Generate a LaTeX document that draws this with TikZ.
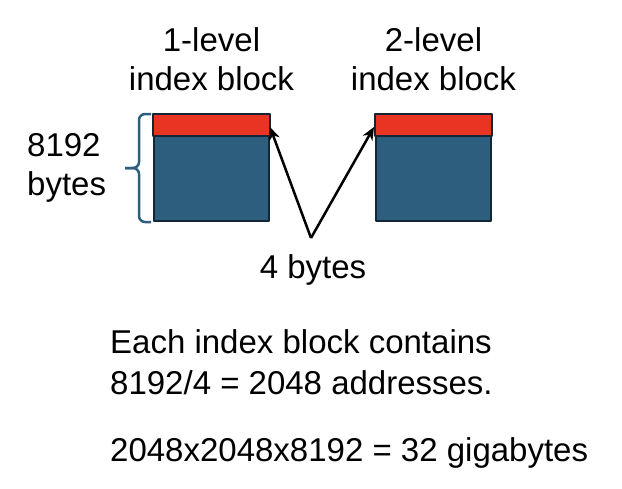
\documentclass[tikz,border=0pt]{standalone}
\usepackage{fontspec}
\setmainfont{Liberation Sans}
\usetikzlibrary{arrows.meta}
\definecolor{blockblue}{RGB}{46,94,126}
\definecolor{headred}{RGB}{233,52,35}
\definecolor{edgedark}{RGB}{18,38,54}
\tikzset{
  block/.style={draw=edgedark,fill=blockblue,line width=2pt,minimum width=115pt,minimum height=106pt,inner sep=0pt},
  label/.style={align=center,inner sep=0pt},
  bracket/.style={blockblue,line width=2.5pt,rounded corners=6pt},
}
\begin{document}
\begin{tikzpicture}[x=1pt,y=-1pt,line join=round,>=Stealth,font=\fontsize{33}{39}\selectfont]
  \useasboundingbox (0,0) rectangle (622,488);
  % index blocks
  \node[block] (lvlone) at (211.5,168) {};
  \node[block] (lvltwo) at (433.5,168) {};
  \foreach \b in {lvlone,lvltwo}{
    \draw[edgedark,fill=headred,line width=2pt] (\b.north west) rectangle ([yshift=-22pt]\b.north east);
  }
  \node[label] (titleone) at (211.5,59) {1-level\\index block};
  \node[label] (titletwo) at (433.5,59) {2-level\\index block};
  % size bracket
  \coordinate (tick) at (125,168);
  \draw[bracket] ([xshift=-2pt]lvlone.north west) -| (139,168) -- (tick);
  \draw[bracket] ([xshift=-2pt]lvlone.south west) -| (139,168) -- (tick);
  \node[label,align=left,anchor=west] (size) at (27,168) {8192\\bytes};
  % pointers
  \coordinate (fork) at (311,238);
  \coordinate (headone) at (270,127);
  \coordinate (headtwo) at (374,127);
  \draw[->,line width=2.5pt,arrows={->[length=13pt,width=11pt]}] (fork) -- (headone);
  \draw[->,line width=2.5pt,arrows={->[length=13pt,width=11pt]}] (fork) -- (headtwo);
  \node[label] (bytes) at (313,270) {4 bytes};
  % notes
  \node[anchor=base west,inner sep=0pt] (noteone) at (110,353) {Each index block contains};
  \node[anchor=base west,inner sep=0pt] (notetwo) at (110,394) {8192/4 = 2048 addresses.};
  \node[anchor=base west,inner sep=0pt] (notethree) at (110,461) {2048x2048x8192 = 32 gigabytes};
\end{tikzpicture}
\end{document}
